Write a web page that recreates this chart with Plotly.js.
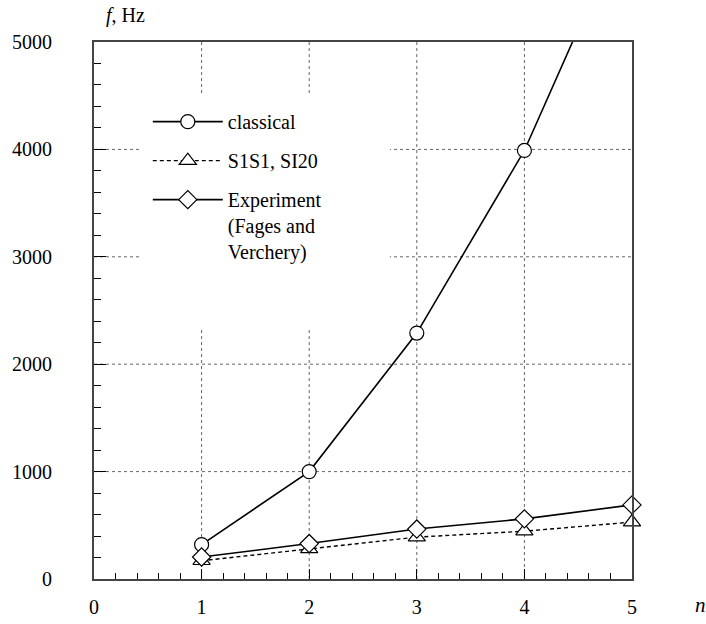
<!DOCTYPE html>
<html>
<head>
<meta charset="utf-8">
<script src="https://cdn.plot.ly/plotly-3.0.1.min.js"></script>
<style>html,body{margin:0;padding:0;background:#fff;}#chart{width:706px;height:624px;}</style>
</head>
<body>
<div id="chart"></div>
<script>
const modes = [1, 2, 3, 4, 5];
const classical = [320, 1000, 2290, 3990, 6250];
const s1s1 = [170, 280, 390, 445, 530];
const experiment = [205, 330, 465, 560, 690];
const xTickVals = [0, 1, 2, 3, 4, 5];
const xTickText = ['0', '1', '2', '3', '4', '5'];
const yTickVals = [0, 1000, 2000, 3000, 4000, 5000];
const yTickText = ['0', '1000', '2000', '3000', '4000', '5000'];

const FONT = 'Liberation Serif';
const FS = 20;

const traces = [
  {
    x: modes, y: classical, name: 'classical', type: 'scatter', mode: 'lines+markers',
    line: {color: '#000', width: 1.6},
    marker: {symbol: 'circle', size: 14, color: '#fff', line: {color: '#000', width: 1.2}},
    legendgroup: 'a', cliponaxis: true
  },
  {
    x: modes, y: s1s1, name: 'S1S1, SI20', type: 'scatter', mode: 'lines+markers',
    line: {color: '#000', width: 1.4, dash: '4px,3px'},
    marker: {symbol: 'triangle-up', size: 15, color: '#fff', line: {color: '#000', width: 1.2}},
    legendgroup: 'b', cliponaxis: false
  },
  {
    x: modes, y: experiment, name: 'Experiment<br>(Fages and<br>Verchery)', type: 'scatter', mode: 'lines+markers',
    line: {color: '#000', width: 1.6},
    marker: {symbol: 'diamond', size: 14, color: '#fff', line: {color: '#000', width: 1.2}},
    legendgroup: 'c', cliponaxis: false
  }
];

// grid lines built from the tick arrays, drawn under a white box behind the legend
const gridStyle = {color: '#666', width: 1, dash: 'dot'};
const shapes = [];
xTickVals.slice(1, -1).forEach(v => shapes.push({type: 'line', xref: 'x', yref: 'paper', x0: v, x1: v, y0: 0, y1: 1, line: gridStyle, layer: 'below'}));
yTickVals.slice(1, -1).forEach(v => shapes.push({type: 'line', xref: 'paper', yref: 'y', x0: 0, x1: 1, y0: v, y1: v, line: gridStyle, layer: 'below'}));
shapes.push({type: 'rect', xref: 'paper', yref: 'paper', x0: 0.0855, x1: 0.55, y0: 0.467, y1: 0.905,
  fillcolor: '#fff', line: {width: 0}, layer: 'below'});

const layout = {
  width: 706, height: 624,
  margin: {l: 94, r: 74, t: 42, b: 45},
  paper_bgcolor: '#fff', plot_bgcolor: '#fff',
  font: {family: FONT, size: FS, color: '#000'},
  showlegend: true,
  legend: {
    x: 0.1, y: 0.888, xanchor: 'left', yanchor: 'top',
    bgcolor: 'rgba(0,0,0,0)', borderwidth: 0,
    font: {family: FONT, size: FS, color: '#000'},
    tracegroupgap: 10, itemwidth: 70, valign: 'top'
  },
  xaxis: {
    range: [0, 5], tickmode: 'array', tickvals: xTickVals, ticktext: xTickText,
    ticks: 'inside', ticklen: 10, tickcolor: '#000', tickwidth: 1,
    showline: true, linecolor: '#444', linewidth: 2, mirror: true,
    showgrid: false, zeroline: false, ticklabelstandoff: 9,
    minor: {dtick: 0.2, ticks: 'inside', ticklen: 6, tickcolor: '#000', tickwidth: 1, showgrid: false},
    tickfont: {family: FONT, size: FS}
  },
  yaxis: {
    range: [0, 5000], tickmode: 'array', tickvals: yTickVals, ticktext: yTickText,
    ticks: 'inside', ticklen: 12, tickcolor: '#000', tickwidth: 1,
    showline: true, linecolor: '#444', linewidth: 2, mirror: true,
    showgrid: false, zeroline: false, ticklabelstandoff: 36,
    minor: {dtick: 200, ticks: 'inside', ticklen: 7, tickcolor: '#000', tickwidth: 1, showgrid: false},
    tickfont: {family: FONT, size: FS}
  },
  shapes: shapes,
  annotations: [
    {xref: 'paper', yref: 'paper', x: 1.0 + 68/538, y: -26/537, xanchor: 'center', yanchor: 'middle',
     text: '<i>n</i>', showarrow: false, font: {family: FONT, size: 21}},
    {xref: 'paper', yref: 'paper', x: 10/538, y: 1 + 27/537, xanchor: 'left', yanchor: 'middle',
     text: '<i>f</i>, Hz', showarrow: false, font: {family: FONT, size: FS}}
  ]
};

Plotly.newPlot('chart', traces, layout, {displayModeBar: false, staticPlot: true});
</script>
</body>
</html>
